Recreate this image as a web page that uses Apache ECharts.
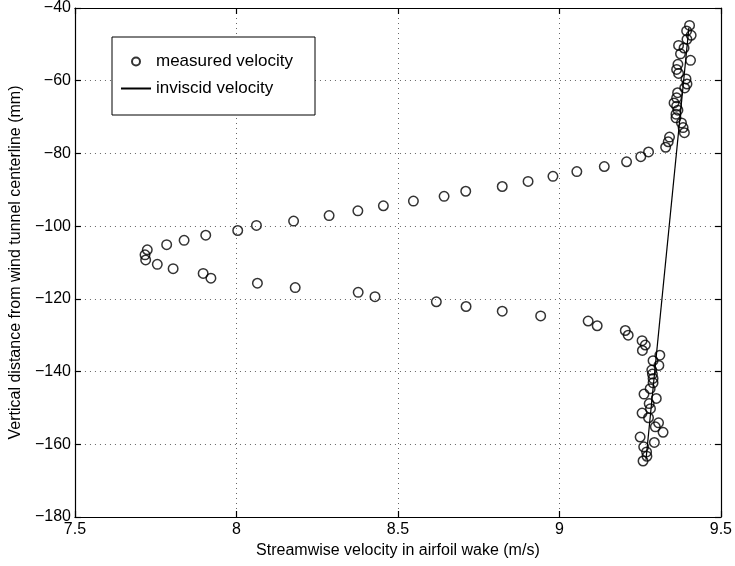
<!DOCTYPE html>
<html>
<head>
<meta charset="utf-8">
<script src="https://cdn.jsdelivr.net/npm/echarts@6.0.0/dist/echarts.min.js"></script>
<style>
html, body { margin: 0; padding: 0; background: #fff; }
#container { width: 735px; height: 566px; }
</style>
</head>
<body>
<div id="container"></div>
<script>
// measured points: wake branches, upper cluster, lower cluster
const measuredVelocity = [
    7.724, 7.717, 7.719, 7.755, 7.784, 7.804, 7.838, 7.897, 7.905, 7.921,
    8.004, 8.062, 8.065, 8.177, 8.182, 8.287, 8.376, 8.377, 8.429, 8.455,
    8.548, 8.619, 8.643, 8.710, 8.711, 8.823, 8.823, 8.903, 8.942, 8.980,
    9.054, 9.089, 9.117, 9.139, 9.204, 9.208, 9.213, 9.252, 9.256, 9.276,
    9.266, 9.257,
    9.403, 9.394, 9.408, 9.395, 9.369, 9.386, 9.375, 9.406, 9.367, 9.363,
    9.369, 9.392, 9.395, 9.388, 9.366, 9.363, 9.355, 9.363, 9.367, 9.361,
    9.361, 9.378, 9.383, 9.387, 9.341, 9.337, 9.329,
    9.311, 9.290, 9.308, 9.286, 9.288, 9.290, 9.290, 9.281, 9.262, 9.300,
    9.278, 9.282, 9.256, 9.276, 9.307, 9.297, 9.321, 9.250, 9.294, 9.261,
    9.270, 9.271, 9.259
];
const measuredDistance = [
    -106.5, -107.9, -109.3, -110.5, -105.1, -111.7, -103.9, -113.0, -102.5, -114.3,
    -101.2, -99.8, -115.7, -98.6, -116.9, -97.1, -95.8, -118.2, -119.4, -94.4,
    -93.1, -120.8, -91.8, -90.4, -122.1, -89.1, -123.4, -87.7, -124.7, -86.3,
    -85.0, -126.1, -127.4, -83.6, -128.7, -82.3, -130.0, -80.9, -131.5, -79.6,
    -132.7, -134.2,
    -44.8, -46.3, -47.5, -48.6, -50.3, -51.0, -52.6, -54.4, -55.5, -56.9,
    -58.0, -59.5, -60.9, -62.0, -63.3, -64.7, -66.1, -67.0, -68.1, -69.2,
    -70.2, -71.6, -72.9, -74.3, -75.5, -76.8, -78.3,
    -135.5, -137.0, -138.3, -139.6, -140.7, -141.9, -143.1, -144.7, -146.2, -147.4,
    -148.8, -150.2, -151.4, -152.7, -154.1, -155.2, -156.7, -158.0, -159.5, -160.7,
    -162.1, -163.3, -164.6
];

const inviscidVelocity = [9.401, 9.268];
const inviscidDistance = [-45.4, -164.3];

const seriesNames = ['measured velocity', 'inviscid velocity'];
const xTitle = 'Streamwise velocity in airfoil wake (m/s)';
const yTitle = 'Vertical distance from wind tunnel centerline (mm)';

const font = 'Liberation Sans, Arial, Helvetica, sans-serif';

const chart = echarts.init(document.getElementById('container'), null, { renderer: 'canvas' });

const frameAxis = {
    axisLine: { show: true, lineStyle: { color: '#000', width: 1.2 } },
    axisTick: { show: true, inside: true, length: 6, lineStyle: { color: '#000', width: 1.2 } },
    splitLine: { show: false }
};

const option = {
    animation: false,
    backgroundColor: '#fff',
    grid: { left: 73, right: 13, top: 7, bottom: 49 },
    legend: {
        data: [
            { name: seriesNames[0] },
            { name: seriesNames[1], itemStyle: { opacity: 0 } }
        ],
        orient: 'vertical',
        left: 112,
        top: 37,
        padding: [16, 22, 18, 8],
        itemGap: 10,
        itemWidth: 30,
        itemHeight: 8,
        selectedMode: false,
        borderColor: '#000',
        borderWidth: 1,
        backgroundColor: '#fff',
        textStyle: { fontSize: 17, color: '#000', fontFamily: font }
    },
    xAxis: [
        {
            type: 'value',
            min: 7.5, max: 9.5, interval: 0.5,
            name: xTitle,
            nameLocation: 'middle',
            nameGap: 26,
            nameTextStyle: { fontSize: 16, color: '#000', fontFamily: font },
            axisLine: frameAxis.axisLine,
            axisTick: frameAxis.axisTick,
            axisLabel: { fontSize: 16, color: '#000', fontFamily: font, margin: 5 },
            splitLine: { show: true, lineStyle: { color: '#666', type: [1, 4], width: 1 } }
        },
        {
            type: 'value', position: 'top',
            min: 7.5, max: 9.5, interval: 0.5,
            axisLine: frameAxis.axisLine,
            axisTick: frameAxis.axisTick,
            axisLabel: { show: false },
            splitLine: { show: false }
        }
    ],
    yAxis: [
        {
            type: 'value',
            min: -180, max: -40, interval: 20,
            name: yTitle,
            nameLocation: 'middle',
            nameGap: 42,
            nameTextStyle: { fontSize: 16, color: '#000', fontFamily: font },
            axisLine: frameAxis.axisLine,
            axisTick: frameAxis.axisTick,
            axisLabel: {
                fontSize: 16, color: '#000', fontFamily: font, margin: 4,
                formatter: v => String(v).replace('-', '\u2212')
            },
            splitLine: { show: true, lineStyle: { color: '#666', type: [1, 4], width: 1 } }
        },
        {
            type: 'value', position: 'right',
            min: -180, max: -40, interval: 20,
            axisLine: frameAxis.axisLine,
            axisTick: frameAxis.axisTick,
            axisLabel: { show: false },
            splitLine: { show: false }
        }
    ],
    series: [
        {
            name: seriesNames[0],
            type: 'scatter',
            symbol: 'circle',
            symbolSize: 9.5,
            itemStyle: { color: 'rgba(0,0,0,0)', borderColor: '#000', borderWidth: 1.5 },
            data: measuredVelocity.map((v, i) => [v, measuredDistance[i]])
        },
        {
            name: seriesNames[1],
            type: 'line',
            symbol: 'none',
            lineStyle: { color: '#000', width: 1.2 },
            itemStyle: { color: '#000' },
            data: inviscidVelocity.map((v, i) => [v, inviscidDistance[i]])
        }
    ]
};

chart.setOption(option);
window.addEventListener('resize', () => chart.resize());
</script>
</body>
</html>
